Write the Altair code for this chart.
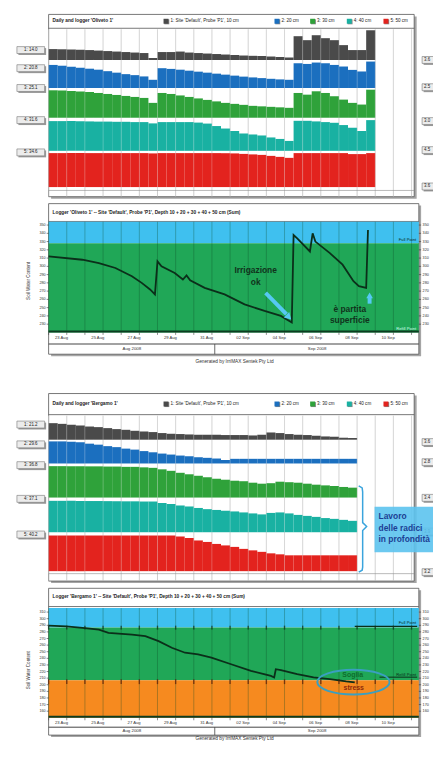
import altair as alt
import pandas as pd

# ------------------------------------------------------------------ data
grid_days = list(range(21))
date_days = [0, 2, 4, 6, 8, 10, 12, 14, 16, 18]
date_labels = ["23 Aug", "25 Aug", "27 Aug", "29 Aug", "31 Aug",
               "02 Sep", "04 Sep", "06 Sep", "08 Sep", "10 Sep"]
month_labels = ["Aug 2008", "Sep 2008"]
legend_labels = ["1: Site 'Default', Probe 'P1', 10 cm", "2: 20 cm", "3: 30 cm", "4: 40 cm", "5: 50 cm"]

# Logger 'Oliveto 1' - two readings per day, one list per depth
p1_d10 = [11, 10.8, 10.5, 10.2, 10, 9.5, 9, 8.5, 8, 7.5, 7, 2,
          8, 8, 8.5, 7.5, 7, 6.5, 6, 5.5, 5, 4.5, 4.2, 4, 3.5, 3, 2.5,
          24, 20, 25, 22, 20, 15, 10, 10, 30]
p1_d20 = [23.3, 22.5, 21.5, 20.5, 19.5, 18.5, 17, 15.5, 14, 13, 11.7, 8.3,
          20, 19.3, 18.5, 17.5, 16.5, 15.5, 14.5, 13.5, 12.5, 11.5, 10.7, 10, 9.3, 8.7, 8.3,
          25, 24.3, 25.7, 25, 23.3, 21.7, 18.3, 16.7, 26.7]
p1_d30 = [27.7, 27.5, 27, 26.5, 26, 25, 24, 23, 22, 21, 20, 15,
          25, 24, 22.5, 21, 19.5, 18, 16.5, 15, 14, 13, 12, 11.5, 11, 10.5, 10,
          25, 23.3, 26.7, 25, 21.7, 18.3, 15, 13.3, 28.3]
p1_d40 = [30, 30, 30, 29.8, 29.7, 29.5, 29.5, 29.3, 29.3, 29, 29, 27.7,
          29, 29, 29, 29, 28.5, 27.5, 25, 22.5, 20, 17.5, 16.5, 15.5, 13.5, 12, 10,
          30.3, 30.3, 29.7, 29, 28.3, 26, 23.3, 20, 31]
p1_d50 = [34.3, 34.3, 34.3, 34.3, 34.3, 34.3, 34.3, 34.3, 34.3, 34.3, 34.3, 34,
          34.3, 34.3, 34.3, 34.3, 34.3, 34.3, 34.3, 34.2, 34, 33.5, 33, 32.5, 31.5, 30.5, 29.5,
          34.3, 34.3, 34.3, 34.3, 34.3, 34.3, 33.3, 33.3, 34.3]
p1_left = ["1: 14.0", "2: 20.8", "3: 25.1", "4: 31.6", "5: 34.6"]
p1_right = ["3.6", "2.5", "3.0", "4.5", "3.6"]

# Logger 'Bergamo 1'
p3_d10 = [16.7, 16, 15, 14.3, 13.3, 12.7, 11.7, 10.7, 10, 9, 8.3, 7.7, 6.7, 6, 5.7, 5.3, 5,
          5, 5, 4.7, 4.7, 4.7, 4.3, 5, 7.3, 6.7, 5.7, 5, 4.7, 4, 3.3, 3, 2, 1.7]
p3_d20 = [22.3, 22.3, 22, 21.5, 20, 19, 17.5, 16.5, 15, 14, 12.5, 11.3, 10, 9, 8, 7.3, 6.3,
          5.7, 5, 3.5, 4.7, 4.7, 4.7, 4.7, 4.7, 4.7, 4.7, 4.7, 4.7, 4.7, 4.7, 4.7, 4.7, 4.7]
p3_d30 = [31.7, 31.7, 31.7, 31.5, 31.5, 31.5, 31.3, 31.3, 31, 31, 30.5, 30, 28.5, 27, 25, 23.5, 22,
          20.5, 19, 18, 17, 16.5, 15, 14, 14.5, 16, 15.5, 15, 14, 13, 12.3, 11.7, 10.7, 10]
p3_d40 = [31.7, 31.7, 31.7, 31.6, 31.5, 31.5, 31.4, 31.3, 31.2, 31.2, 31, 31, 29.5, 28.5, 27, 26, 24.5,
          23.3, 22.5, 21.7, 21, 20, 19, 18, 19.5, 20, 19, 17.5, 16.5, 15.5, 14.3, 13.5, 12.5, 11.5]
p3_d50 = [36, 36, 36, 36, 36, 36, 36, 36, 36, 36, 36, 36, 36, 36, 35, 33.5, 31,
          29.5, 27.5, 26, 24.5, 22.5, 21, 19.5, 18, 17, 16, 16, 16, 16, 16, 16, 16, 16]
p3_left = ["1: 21.2", "2: 29.6", "3: 36.8", "4: 37.1", "5: 40.2"]
p3_right = ["3.6", "2.8", "3.4", "3.9", "3.2"]

# summed soil water content lines
p2_day = [0, 1.86, 2.77, 3.68, 4.59, 5.13, 5.59, 5.86, 6.0, 6.22, 6.95, 7.4, 7.6, 7.8, 8.6, 9.7,
          10.8, 11.9, 12.8, 13.4, 13.5, 13.7, 14.4, 14.55, 14.7, 15.5, 16.2, 16.8, 17.1, 17.5, 17.6]
p2_swc = [312, 308, 304, 298, 288, 280, 272, 266, 306, 300, 292, 284, 289, 283, 274, 266,
          254, 246, 240, 232, 338, 334, 318, 340, 330, 316, 302, 282, 276, 274, 344]
p2_ticks = [230, 240, 250, 260, 270, 280, 290, 300, 310, 320, 330, 340, 350]
p2_full = 328

p4_day = [0, 0.97, 1.87, 2.77, 3.3, 4.6, 5.33, 6.06, 6.79, 7.52, 8.24, 8.97, 10.06, 11.15,
          12.25, 12.43, 12.52, 12.8, 13.7, 14.6, 15.5, 16.4, 16.87]
p4_swc = [289.5, 288.5, 286, 283.5, 278.5, 276, 273.5, 266, 256, 248.5, 246, 241, 231, 221,
          213.5, 211, 223.5, 222, 216, 211, 208.5, 205, 203.5]
p4_ticks = [160, 170, 180, 190, 200, 210, 220, 230, 240, 250, 260, 270, 280, 290, 300, 310]
p4_full = 286.5
p4_refill = 207

# ------------------------------------------------------------------ layout helpers
FONT = "Liberation Sans"
W, H = 370, 737
XS = alt.Scale(domain=[0, 20.2], nice=False, zero=False)
BAND_COLORS = ["#4a4a4a", "#1b6fbf", "#2fa23a", "#19b1a2", "#e3231e"]
SKY, SWCG, ORANGE, LINEC = "#3fc0ef", "#20a757", "#f68a1f", "#0b2f1a"


def X(v):
    return v - 49


def Y(v):
    return v - 11


def rects(rows, **kw):
    df = pd.DataFrame([{"x": X(a), "y": Y(b), "x2": X(c), "y2": Y(d)} for a, b, c, d in rows])
    return alt.Chart(df).mark_rect(**kw).encode(
        x=alt.X("x:Q", scale=None, axis=None), x2="x2:Q",
        y=alt.Y("y:Q", scale=None, axis=None), y2="y2:Q")


def rules(rows, **kw):
    df = pd.DataFrame([{"x": X(a), "y": Y(b), "x2": X(c), "y2": Y(d)} for a, b, c, d in rows])
    return alt.Chart(df).mark_rule(**kw).encode(
        x=alt.X("x:Q", scale=None, axis=None), x2="x2:Q",
        y=alt.Y("y:Q", scale=None, axis=None), y2="y2:Q")


def texts(rows, **kw):
    df = pd.DataFrame([{"x": X(a), "y": Y(b), "t": t} for a, b, t in rows])
    kw.setdefault("font", FONT)
    return alt.Chart(df).mark_text(**kw).encode(
        x=alt.X("x:Q", scale=None, axis=None), y=alt.Y("y:Q", scale=None, axis=None), text="t:N")


def day_rules(y1, y2, **kw):
    return alt.Chart(pd.DataFrame({"d": grid_days})).mark_rule(**kw).encode(
        x=alt.X("d:Q", scale=XS, axis=None), y=alt.value(Y(y1)), y2=alt.value(Y(y2)))


def box_labels(labels, ys, x1, x2, tx, align):
    out = [rects([(x1 + 1.5, y - 2, x2 + 1.5, y + 5) for y in ys], color="#9a9a9a"),
           rects([(x1, y - 3.5, x2, y + 3.5) for y in ys], fill="#ececec", stroke="#777", strokeWidth=0.6),
           texts([(tx, y, t) for y, t in zip(ys, labels)], fontSize=4.5, color="#222", align=align)]
    return out


def legend(y):
    sq = [165, 277, 313, 350, 387]
    out = [rects([(x + 0.8, y - 2, x + 5.8, y + 3) for x in sq], color="#888")]
    for x, c in zip(sq, BAND_COLORS):
        out.append(rects([(x, y - 2.6, x + 5, y + 2.4)], color=c))
    out.append(texts([(x + 7, y, t) for x, t in zip(sq, legend_labels)], fontSize=4.6, color="#222", align="left"))
    return out


def bar_panel(series, bases, title, top, head, bottom, baseline, lab, lab_y, rlab, rlab_y):
    L = [rects([(51.5, top + 2, 420.5, bottom + 2)], color="#a5a5a5"),
         rects([(49, top, 418, bottom)], fill="white", stroke="#555", strokeWidth=0.8),
         rules([(49, head, 418, head)], color="#555", strokeWidth=0.8),
         texts([(53, (top + head) / 2, title)], fontSize=4.8, color="#222", align="left", fontWeight="bold"),
         day_rules(head + 1, bottom, color="#b8b8b8", strokeWidth=0.7)]
    L += legend((top + head) / 2)
    for vals, base, col in zip(series, bases, BAND_COLORS):
        df = pd.DataFrame({"x0": [i * 0.5 for i in range(len(vals))],
                           "x1": [(i + 1) * 0.5 for i in range(len(vals))],
                           "v": vals, "z": [0] * len(vals)})
        L.append(alt.Chart(df).mark_rect(color=col).encode(
            x=alt.X("x0:Q", scale=XS, axis=None), x2="x1:Q",
            y=alt.Y("v:Q", scale=alt.Scale(domain=[0, 40], range=[Y(base), Y(base) - 40], nice=False),
                    axis=None),
            y2="z:Q"))
    L.append(day_rules(head + 1, baseline, color="white", opacity=0.3, strokeWidth=0.7))
    L.append(rules([(49, baseline, 418, baseline)], color="#8a8a8a", strokeWidth=0.6))
    L += box_labels(lab, lab_y, 17, 45, 31, "center")
    L += box_labels(rlab, rlab_y, 426, 448, 428, "left")
    return L


def line_panel(day, swc, ticks, ys, bands, title, top, head, ptop, pbot, bottom, gen_y, date_y, month_y, month_line, title_y):
    L = [rects([(51.5, top + 2, 425, bottom + 2)], color="#a5a5a5"),
         rects([(49, top, 422.7, bottom)], fill="white", stroke="#555", strokeWidth=0.8),
         rules([(49, head, 422.7, head)], color="#555", strokeWidth=0.8),
         texts([(53, (top + head) / 2, title)], fontSize=4.8, color="#222", align="left", fontWeight="bold")]
    bdf = pd.DataFrame(bands, columns=["lo", "hi", "c"])
    band_layer = alt.Chart(bdf).mark_rect().encode(
        x=alt.value(0), x2=alt.value(X(422.7)),
        y=alt.Y("lo:Q", scale=ys, axis=None), y2="hi:Q", color=alt.Color("c:N", scale=None))
    grid = day_rules(ptop, pbot, color="#0c4a26", opacity=0.45, strokeWidth=0.7)
    ldf = pd.DataFrame({"d": day, "v": swc, "i": list(range(len(day)))})
    line = alt.Chart(ldf).mark_line(color=LINEC, strokeWidth=1.8).encode(
        x=alt.X("d:Q", scale=XS, axis=None), y=alt.Y("v:Q", scale=ys, axis=None), order="i:Q")
    tdf = pd.DataFrame({"t": ticks})
    tl = alt.Chart(tdf).mark_text(font=FONT, fontSize=3.8, color="#333", align="right").encode(
        x=alt.value(-3), y=alt.Y("t:Q", scale=ys, axis=None), text="t:Q")
    tr = alt.Chart(tdf).mark_text(font=FONT, fontSize=3.8, color="#333", align="left").encode(
        x=alt.value(X(426.5)), y=alt.Y("t:Q", scale=ys, axis=None), text="t:Q")
    tk1 = alt.Chart(tdf).mark_rule(color="#333", strokeWidth=0.6).encode(
        x=alt.value(-2), x2=alt.value(0), y=alt.Y("t:Q", scale=ys, axis=None))
    tk2 = alt.Chart(tdf).mark_rule(color="#333", strokeWidth=0.6).encode(
        x=alt.value(X(422.7)), x2=alt.value(X(425)), y=alt.Y("t:Q", scale=ys, axis=None))
    L.append(alt.layer(band_layer, grid, tk1, tk2, tl, tr, line))
    L.append(rules([(49, pbot - 1, 422.7, pbot - 1)], color="#0c3d20", strokeWidth=2))
    L.append(day_rules(pbot, pbot + 2.5, color="#444", strokeWidth=0.6))
    ddf = pd.DataFrame({"d": date_days, "t": date_labels})
    L.append(alt.Chart(ddf).mark_text(font=FONT, fontSize=4.2, color="#333", dx=13).encode(
        x=alt.X("d:Q", scale=XS, axis=None), y=alt.value(Y(date_y)), text="t:N"))
    L.append(rules([(49, month_line, 422.7, month_line)], color="#444", strokeWidth=1))
    L.append(rules([(216.7, month_line, 216.7, bottom)], color="#444", strokeWidth=0.8))
    L.append(texts([(133, month_y, month_labels[0]), (320, month_y, month_labels[1])],
                   fontSize=4.4, color="#333"))
    L.append(texts([(236.7, gen_y, "Generated by IrriMAX Sentek Pty Ltd")], fontSize=4.8, color="#333"))
    L.append(texts([(29, title_y, "Soil Water Content")], fontSize=4.6, color="#333", angle=270))
    return L


layers = []
# ---------------- panel 1: Oliveto daily bars
layers += bar_panel([p1_d10, p1_d20, p1_d30, p1_d40, p1_d50], [60, 88.3, 118.3, 151.7, 188.3],
                    "Daily and logger 'Oliveto 1'", 14, 28, 198, 191.7,
                    p1_left, [50, 68.3, 88.3, 120.7, 153.3], p1_right, [60, 87.5, 121.7, 151, 187.7])

# ---------------- panel 2: Oliveto summed line
ys2 = alt.Scale(domain=[220, 354], range=[Y(335), Y(223.3)], nice=False, zero=False)
layers += line_panel(p2_day, p2_swc, p2_ticks, ys2,
                     [[p2_full, 354, SKY], [220, p2_full, SWCG]],
                     "Logger 'Oliveto 1' -- Site 'Default', Probe 'P1', Depth 10 + 20 + 30 + 40 + 50 cm (Sum)",
                     205, 223, 223.3, 335, 357, 365, 341, 352, 346.7, 283)
layers.append(texts([(420, 241.5, "Full Point")], fontSize=4.2, color=LINEC, align="right"))
layers.append(texts([(420, 331.5, "Refill Point")], fontSize=4.2, color="#cfe", align="right"))
layers.append(rules([(268, 295, 289, 316.5)], color="#56c8f2", strokeWidth=4))
ar = pd.DataFrame([{"x": X(291.5), "y": Y(319.5)}])
layers.append(alt.Chart(ar).mark_point(shape="triangle-up", filled=True, angle=135, size=60,
                                        color="#56c8f2", opacity=1).encode(
    x=alt.X("x:Q", scale=None, axis=None), y=alt.Y("y:Q", scale=None, axis=None)))
layers.append(rules([(373, 306, 373, 300)], color="#56c8f2", strokeWidth=4))
ar2 = pd.DataFrame([{"x": X(373), "y": Y(297.5)}])
layers.append(alt.Chart(ar2).mark_point(shape="triangle-up", filled=True, size=45,
                                         color="#56c8f2", opacity=1).encode(
    x=alt.X("x:Q", scale=None, axis=None), y=alt.Y("y:Q", scale=None, axis=None)))
layers.append(texts([(258, 272, "Irrigazione"), (258, 284, "ok"),
                     (353, 311.5, "è partita"), (353, 323, "superficie")],
                    fontSize=8.5, fontWeight="bold", color="#10331c"))

# ---------------- panel 3: Bergamo daily bars
layers += bar_panel([p3_d10, p3_d20, p3_d30, p3_d40, p3_d50], [443.3, 467.3, 501.7, 536.7, 576],
                    "Daily and logger 'Bergamo 1'", 396.7, 418, 586, 578.5,
                    p3_left, [428, 448, 469, 503, 539], p3_right, [445.7, 466, 502, 536, 577])
br = pd.DataFrame({"x": [X(v) for v in [362, 365.5, 366, 366, 370, 366, 366, 365.5, 362]],
                   "y": [Y(v) for v in [490, 492, 496, 527, 531, 535, 572, 575, 577]],
                   "i": list(range(9))})
layers.append(alt.Chart(br).mark_line(color="#3aa4dd", strokeWidth=1.5).encode(
    x=alt.X("x:Q", scale=None, axis=None), y=alt.Y("y:Q", scale=None, axis=None), order="i:Q"))
layers.append(rects([(378, 511, 450, 557)], color="#5cc3ee", opacity=0.9))
layers.append(texts([(382, 520.5, "Lavoro"), (382, 532, "delle radici"), (382, 543.5, "in profondità")],
                    fontSize=8.5, fontWeight="bold", color="#1c3f94", align="left"))

# ---------------- panel 4: Bergamo summed line
ys4 = alt.Scale(domain=[150, 316], range=[Y(724), Y(613.3)], nice=False, zero=False)
layers += line_panel(p4_day, p4_swc, p4_ticks, ys4,
                     [[p4_full, 316, SKY], [p4_refill, p4_full, SWCG], [150, p4_refill, ORANGE]],
                     "Logger 'Bergamo 1' -- Site 'Default', Probe 'P1', Depth 10 + 20 + 30 + 40 + 50 cm (Sum)",
                     593.3, 611.7, 613.3, 724, 741.5, 745, 729, 737.5, 733.5, 676)
layers.append(day_rules(631, 635, color=LINEC, strokeWidth=1.4, opacity=0.7))
layers.append(day_rules(685, 690, color="#5a1a05", strokeWidth=1.4, opacity=0.7))
layers.append(rules([(358, 631.8, 421, 631.8)], color=LINEC, strokeWidth=1.3))
layers.append(rules([(383, 683, 421, 683)], color=LINEC, strokeWidth=1.0))
layers.append(texts([(420, 628.5, "Full Point"), (420, 680.5, "Refill Point")],
                    fontSize=4.2, color=LINEC, align="right"))
ell = pd.DataFrame([{"x": X(356.7), "y": Y(688)}])
layers.append(alt.Chart(ell).mark_point(
    shape="M -1 0 A 1 0.34 0 1 0 1 0 A 1 0.34 0 1 0 -1 0 Z", size=5329, filled=False,
    color="#3a9fc0", strokeWidth=2, opacity=1).encode(
    x=alt.X("x:Q", scale=None, axis=None), y=alt.Y("y:Q", scale=None, axis=None)))
layers.append(texts([(356, 681, "Soglia")], fontSize=7, fontWeight="bold", color="#0d6e2c"))
layers.append(texts([(357, 694, "stress")], fontSize=7, fontWeight="bold", color="#8e2a0c"))

chart = alt.layer(*layers).resolve_scale(y="independent").properties(
    width=W, height=H,
    autosize=alt.AutoSizeParams(type="none"),
    padding={"left": 41, "top": 0, "right": 18, "bottom": 0},
).configure_view(stroke=None)

chart.save("out.html", embed_options={"renderer": "svg", "actions": False})
